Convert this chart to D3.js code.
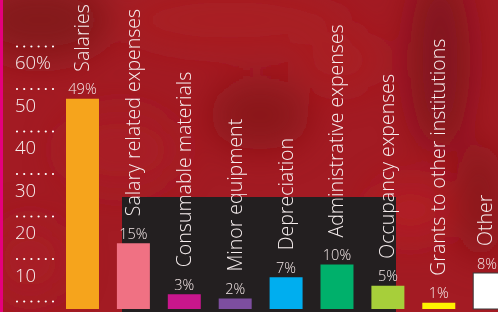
<!DOCTYPE html>
<html lang="en">
<head>
<meta charset="UTF-8">
<title>Expenses by type</title>
<script src="https://cdnjs.cloudflare.com/ajax/libs/d3/7.8.5/d3.min.js"></script>
<style>
    body { margin: 0; background: #a41b23; overflow: hidden; }
    svg { display: block; font-family: 'Open Sans', 'Noto Sans', sans-serif; }
    .cat { fill: #f6eeee; font-size: 19.5px; font-weight: 300; }
    .val { fill: #f2e6e6; font-size: 14.5px; font-weight: 300; }
    .tick-label { fill: #f6eeee; font-size: 18.5px; font-weight: 300; }
</style>
</head>
<body>
<div id="chart"></div>
<script>
const categories = ["Salaries", "Salary related expenses", "Consumable materials", "Minor equipment",
    "Depreciation", "Administrative expenses", "Occupancy expenses", "Grants to other institutions", "Other"];
const shares = [49, 15, 3, 2, 7, 10, 5, 1, 8];
const barColors = ["#f6a41c", "#f07183", "#c8168c", "#7d4e9f", "#00aeef", "#00b06b", "#a7cf3a", "#fff200", "#ffffff"];
const tickValues = [0, 10, 20, 30, 40, 50, 60];
const tickLabels = ["", "10", "20", "30", "40", "50", "60%"];

const width = 498, height = 312;

const svg = d3.select("#chart").append("svg")
    .attr("width", width)
    .attr("height", height);

// background texture (red, blotchy)
const defs = svg.append("defs");
defs.append("filter").attr("id", "blur")
    .attr("x", "-50%").attr("y", "-50%").attr("width", "200%").attr("height", "200%")
    .append("feGaussianBlur").attr("stdDeviation", 18);

svg.append("rect").attr("width", width).attr("height", height).attr("fill", "#a31b23");
const blobs = svg.append("g").attr("filter", "url(#blur)");
[
    [40, 20, 70, 40, "#7d1a1b", 0.8],
    [230, 20, 110, 30, "#b01d26", 0.5],
    [260, 115, 50, 35, "#7a1618", 0.6],
    [120, 150, 60, 40, "#ac1c25", 0.6],
    [440, 60, 30, 90, "#741517", 0.7],
    [480, 200, 25, 60, "#7a1719", 0.6],
    [410, 210, 40, 30, "#bd1e27", 0.6],
    [340, 60, 40, 30, "#b01d25", 0.5],
    [30, 260, 40, 40, "#ac1c25", 0.6]
].forEach(b => blobs.append("ellipse")
    .attr("cx", b[0]).attr("cy", b[1]).attr("rx", b[2]).attr("ry", b[3])
    .attr("fill", b[4]).attr("opacity", b[5]));

// dark panel behind the middle bars
svg.append("rect")
    .attr("x", 122).attr("y", 197)
    .attr("width", 274).attr("height", height - 197)
    .attr("fill", "#231f20");

// magenta strip on the left edge
svg.append("rect").attr("x", 0).attr("y", 0).attr("width", 3).attr("height", height).attr("fill", "#e5007d");

const y = d3.scaleLinear().domain([0, 60]).range([307, 52]);
const barBottom = y(0) + 2;

const x = d3.scaleBand()
    .domain(categories)
    .range([66, 66 + 50.9 * (categories.length - 0.352)])
    .paddingInner(0.352)
    .paddingOuter(0);

// y axis: dotted rules with labels under them
const axis = svg.append("g");
axis.selectAll("line")
    .data(tickValues)
    .join("line")
    .attr("x1", 17).attr("x2", 54)
    .attr("y1", d => y(d) - 5.5).attr("y2", d => y(d) - 5.5)
    .attr("stroke", "#fff")
    .attr("stroke-width", 2.2)
    .attr("stroke-linecap", "round")
    .attr("stroke-dasharray", "0 7.2");
axis.selectAll("text")
    .data(tickValues)
    .join("text")
    .attr("class", "tick-label")
    .attr("x", 15)
    .attr("y", d => y(d) + 17)
    .text((d, i) => tickLabels[i]);

const data = categories.map((c, i) => ({ cat: c, v: shares[i], color: barColors[i] }));
const mid = d => x(d.cat) + x.bandwidth() / 2;

const g = svg.append("g");
g.selectAll("rect.bar")
    .data(data)
    .join("rect")
    .attr("class", "bar")
    .attr("x", d => x(d.cat))
    .attr("y", d => y(d.v))
    .attr("width", x.bandwidth())
    .attr("height", d => barBottom - y(d.v))
    .attr("fill", d => d.color)
    .attr("stroke", d => d.color === "#ffffff" ? "#3a3a3a" : "none")
    .attr("stroke-width", 1);

// keep the last labels inside the frame
g.selectAll("text.val")
    .data(data)
    .join("text")
    .attr("class", "val")
    .attr("x", d => Math.min(mid(d), width - 11))
    .attr("y", d => y(d.v) - 4.5)
    .attr("text-anchor", "middle")
    .text(d => d.v + "%");

g.selectAll("text.cat")
    .data(data)
    .join("text")
    .attr("class", "cat")
    .attr("transform", d => `translate(${Math.min(mid(d) + 6.5, width - 6)},${y(d.v) - 27})rotate(-90)`)
    .text(d => d.cat);
</script>
</body>
</html>
